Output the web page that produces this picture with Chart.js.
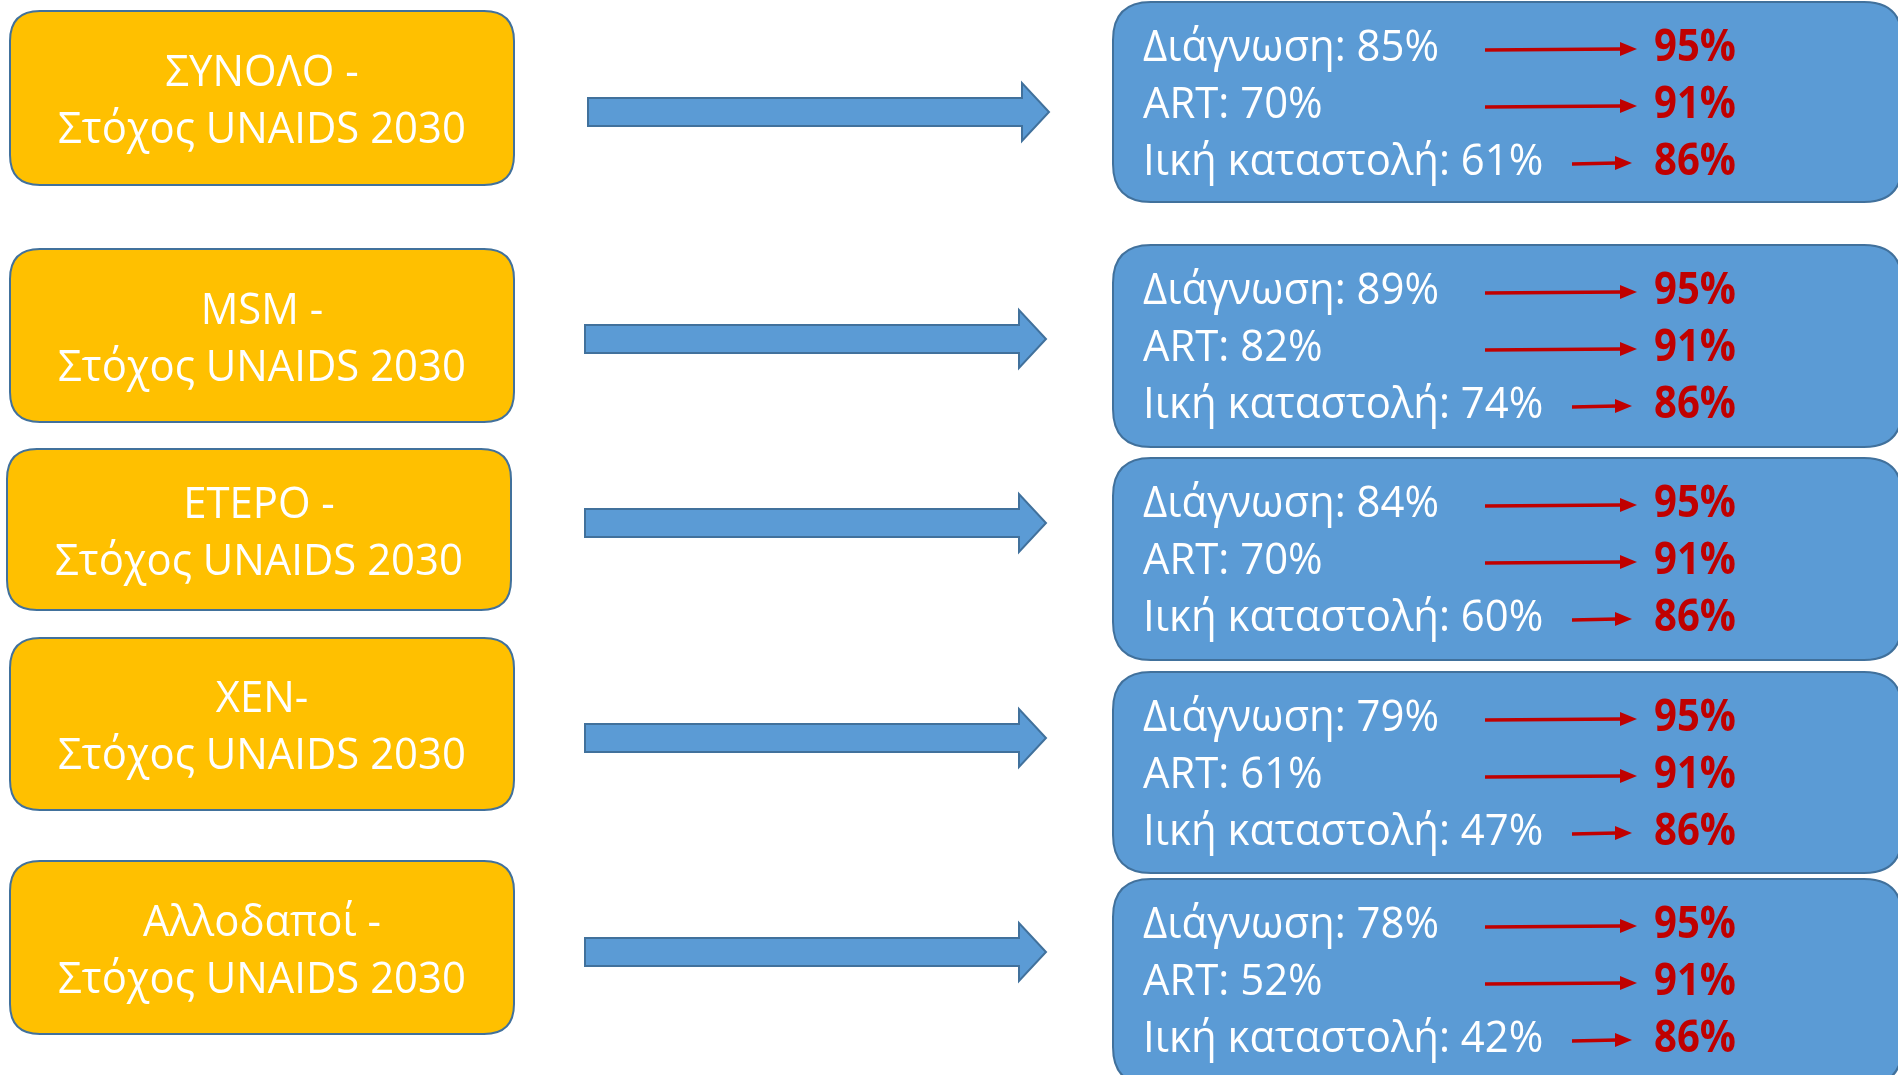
<!DOCTYPE html>
<html>
<head>
<meta charset="utf-8">
<script src="https://cdn.jsdelivr.net/npm/chart.js@4"></script>
<style>
  html, body { margin: 0; padding: 0; background: #ffffff; }
  #wrap { width: 1898px; height: 1075px; position: relative; }
</style>
</head>
<body>
<div id="wrap"><canvas id="chart"></canvas></div>
<script>
// Data
const groups = ["ΣΥΝΟΛΟ -", "MSM -", "ΕΤΕΡΟ -", "ΧΕΝ-", "Αλλοδαποί -"];
const subtitle = "Στόχος UNAIDS 2030";
const metrics = ["Διάγνωση", "ART", "Ιική καταστολή"];
const diagnosis = [85, 89, 84, 79, 78];
const art = [70, 82, 70, 61, 52];
const suppression = [61, 74, 60, 47, 42];
const targets = [95, 91, 86];

// Layout (page coordinates, mapped through the chart scales)
const leftBoxX = [10, 10, 7, 10, 10];
const leftBoxW = 504;
const leftBoxTop = [11, 249, 449, 638, 861];
const leftBoxBottom = [185, 422, 610, 810, 1034];
const bigArrowX = [588, 585, 585, 585, 585];
const bigArrowY = [112, 339, 523, 738, 952];
const rightBoxTop = [2, 245, 458, 672, 879];
const rightBoxBottom = [202, 447, 660, 873, 1085];
const lineOffsets = [59, 116, 173];

const ORANGE = "#FFC000";
const BLUE = "#5B9BD5";
const EDGE = "#41719C";
const RED = "#C00000";
const FONT = "'Open Sans', 'Noto Sans', sans-serif";

let squeeze = 1;

function roundRect(ctx, x0, y0, x1, y1, r) {
  ctx.beginPath();
  ctx.moveTo(x0 + r, y0);
  ctx.lineTo(x1 - r, y0);
  ctx.quadraticCurveTo(x1, y0, x1, y0 + r);
  ctx.lineTo(x1, y1 - r);
  ctx.quadraticCurveTo(x1, y1, x1 - r, y1);
  ctx.lineTo(x0 + r, y1);
  ctx.quadraticCurveTo(x0, y1, x0, y1 - r);
  ctx.lineTo(x0, y0 + r);
  ctx.quadraticCurveTo(x0, y0, x0 + r, y0);
  ctx.closePath();
}

function text(ctx, str, x, y, font, color, align, sq) {
  ctx.save();
  ctx.font = font;
  ctx.fillStyle = color;
  ctx.textAlign = align || "left";
  ctx.textBaseline = "alphabetic";
  ctx.translate(x, y);
  ctx.scale(sq || squeeze, 1);
  ctx.fillText(str, 0, 0);
  ctx.restore();
}

function redArrow(ctx, x0, x1, y) {
  ctx.save();
  ctx.strokeStyle = RED;
  ctx.fillStyle = RED;
  ctx.lineWidth = 3.5;
  ctx.beginPath();
  ctx.moveTo(x0, y + 1);
  ctx.lineTo(x1 - 15, y);
  ctx.stroke();
  ctx.beginPath();
  ctx.moveTo(x1, y);
  ctx.lineTo(x1 - 17, y - 7);
  ctx.lineTo(x1 - 17, y + 7);
  ctx.closePath();
  ctx.fill();
  ctx.restore();
}

const diagramPlugin = {
  id: "diagram",
  afterDraw(chart) {
    const ctx = chart.ctx;
    const sx = v => chart.scales.x.getPixelForValue(v);
    const sy = v => chart.scales.y.getPixelForValue(v);
    const regular = "400 44px " + FONT;
    const bold = "700 44px " + FONT;

    ctx.save();
    ctx.font = regular;
    squeeze = 296 / ctx.measureText("Διάγνωση: 85%").width;
    ctx.font = bold;
    const boldSqueeze = 82 / ctx.measureText("95%").width;
    ctx.restore();

    const values = [diagnosis, art, suppression];

    groups.forEach((g, i) => {
      // left orange box
      const lx0 = sx(leftBoxX[i]), lx1 = sx(leftBoxX[i] + leftBoxW);
      const ly0 = sy(leftBoxTop[i]), ly1 = sy(leftBoxBottom[i]);
      roundRect(ctx, lx0, ly0, lx1, ly1, 30);
      ctx.fillStyle = ORANGE;
      ctx.fill();
      ctx.lineWidth = 2;
      ctx.strokeStyle = EDGE;
      ctx.stroke();
      const cx = (lx0 + lx1) / 2, cy = (ly0 + ly1) / 2;
      text(ctx, g, cx, cy - 12, regular, "#ffffff", "center");
      text(ctx, subtitle, cx, cy + 45, regular, "#ffffff", "center");

      // big blue arrow
      const ax = sx(bigArrowX[i]), ay = sy(bigArrowY[i]);
      const base = sx(bigArrowX[i] + 434), tip = sx(bigArrowX[i] + 461);
      ctx.beginPath();
      ctx.moveTo(ax, ay - 14);
      ctx.lineTo(base, ay - 14);
      ctx.lineTo(base, ay - 29);
      ctx.lineTo(tip, ay);
      ctx.lineTo(base, ay + 29);
      ctx.lineTo(base, ay + 14);
      ctx.lineTo(ax, ay + 14);
      ctx.closePath();
      ctx.fillStyle = BLUE;
      ctx.fill();
      ctx.lineWidth = 2;
      ctx.strokeStyle = EDGE;
      ctx.stroke();

      // right blue box
      const ry0 = sy(rightBoxTop[i]), ry1 = sy(rightBoxBottom[i]);
      roundRect(ctx, sx(1113), ry0, sx(1902), ry1, 38);
      ctx.fillStyle = BLUE;
      ctx.fill();
      ctx.lineWidth = 2;
      ctx.strokeStyle = EDGE;
      ctx.stroke();

      metrics.forEach((m, k) => {
        const by = sy(rightBoxTop[i] + lineOffsets[k]);
        text(ctx, m + ": " + values[k][i] + "%", sx(1143), by, regular, "#ffffff");
        if (k < 2) redArrow(ctx, sx(1485), sx(1637), by - 12);
        else redArrow(ctx, sx(1572), sx(1632), by - 12);
        text(ctx, targets[k] + "%", sx(1654), by, bold, RED, "left", boldSqueeze);
      });
    });
  }
};

new Chart(document.getElementById("chart"), {
  type: "scatter",
  data: { datasets: [] },
  options: {
    responsive: true,
    maintainAspectRatio: false,
    animation: false,
    layout: { padding: 0 },
    plugins: { legend: { display: false }, tooltip: { enabled: false } },
    scales: {
      x: { type: "linear", min: 0, max: 1898, display: false },
      y: { type: "linear", min: 0, max: 1075, reverse: true, display: false }
    }
  },
  plugins: [diagramPlugin]
});
</script>
</body>
</html>
